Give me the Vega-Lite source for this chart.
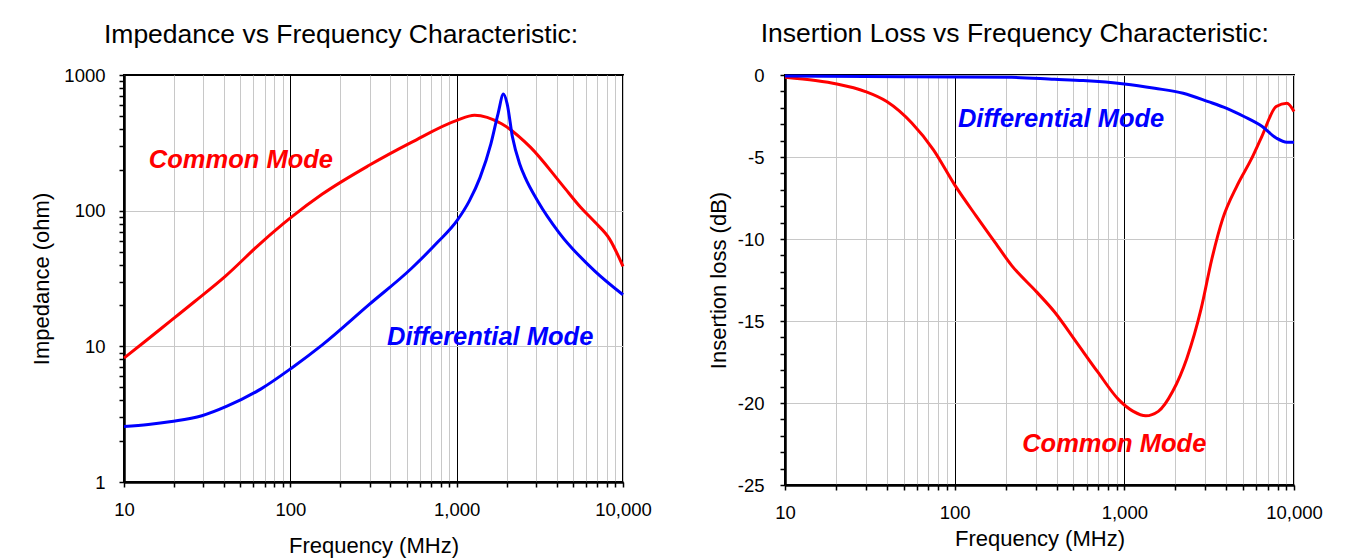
{
  "$schema": "https://vega.github.io/schema/vega-lite/v6.json",
  "background": "white",
  "padding": {"left": 29, "top": 19, "right": 10, "bottom": 0},
  "spacing": 53,
  "config": {
    "font": "Liberation Sans",
    "view": {"stroke": "black", "strokeWidth": 2},
    "axis": {
      "labelFont": "Liberation Sans", "labelFontSize": 18.5, "labelColor": "black",
      "titleFont": "Liberation Sans", "titleFontSize": 22, "titleFontWeight": "normal", "titleColor": "black",
      "domainColor": "black", "domainWidth": 2.5, "tickColor": "black", "tickWidth": 1.5, "tickSize": 5
    },
    "title": {"font": "Liberation Sans", "fontSize": 26.5, "fontWeight": "normal", "color": "black", "anchor": "middle", "frame": "bounds"}
  },
  "datasets": {
    "impedance": [
      {"f": 10, "z": 8.2, "mode": "Common Mode"},
      {"f": 13.3, "z": 10.8, "mode": "Common Mode"},
      {"f": 19.3, "z": 15.6, "mode": "Common Mode"},
      {"f": 26.6, "z": 21.4, "mode": "Common Mode"},
      {"f": 40.6, "z": 32.8, "mode": "Common Mode"},
      {"f": 66.7, "z": 58, "mode": "Common Mode"},
      {"f": 101.9, "z": 90, "mode": "Common Mode"},
      {"f": 155, "z": 132, "mode": "Common Mode"},
      {"f": 296, "z": 215, "mode": "Common Mode"},
      {"f": 538, "z": 320, "mode": "Common Mode"},
      {"f": 1002, "z": 463, "mode": "Common Mode"},
      {"f": 1280, "z": 505, "mode": "Common Mode"},
      {"f": 1862, "z": 437, "mode": "Common Mode"},
      {"f": 2773, "z": 294, "mode": "Common Mode"},
      {"f": 4340, "z": 153, "mode": "Common Mode"},
      {"f": 5560, "z": 106, "mode": "Common Mode"},
      {"f": 6795, "z": 82, "mode": "Common Mode"},
      {"f": 8290, "z": 62, "mode": "Common Mode"},
      {"f": 10000, "z": 38.9, "mode": "Common Mode"},
      {"f": 10, "z": 2.56, "mode": "Differential Mode"},
      {"f": 14, "z": 2.65, "mode": "Differential Mode"},
      {"f": 19.3, "z": 2.79, "mode": "Differential Mode"},
      {"f": 29.4, "z": 3.08, "mode": "Differential Mode"},
      {"f": 41.6, "z": 3.62, "mode": "Differential Mode"},
      {"f": 66.7, "z": 4.86, "mode": "Differential Mode"},
      {"f": 102, "z": 6.93, "mode": "Differential Mode"},
      {"f": 155, "z": 10.2, "mode": "Differential Mode"},
      {"f": 296, "z": 20.2, "mode": "Differential Mode"},
      {"f": 538, "z": 37.8, "mode": "Differential Mode"},
      {"f": 762, "z": 58, "mode": "Differential Mode"},
      {"f": 1002, "z": 84, "mode": "Differential Mode"},
      {"f": 1192, "z": 118, "mode": "Differential Mode"},
      {"f": 1383, "z": 176, "mode": "Differential Mode"},
      {"f": 1606, "z": 311, "mode": "Differential Mode"},
      {"f": 1774, "z": 520, "mode": "Differential Mode"},
      {"f": 1911, "z": 723, "mode": "Differential Mode"},
      {"f": 2010, "z": 616, "mode": "Differential Mode"},
      {"f": 2165, "z": 349, "mode": "Differential Mode"},
      {"f": 2393, "z": 221, "mode": "Differential Mode"},
      {"f": 2579, "z": 176, "mode": "Differential Mode"},
      {"f": 3069, "z": 118, "mode": "Differential Mode"},
      {"f": 4133, "z": 68.7, "mode": "Differential Mode"},
      {"f": 6795, "z": 35.7, "mode": "Differential Mode"},
      {"f": 10000, "z": 24, "mode": "Differential Mode"}
    ],
    "impedanceLabels": [
      {"f": 14.1, "z": 237, "label": "Common Mode", "mode": "Common Mode"},
      {"f": 381, "z": 11.7, "label": "Differential Mode", "mode": "Differential Mode"}
    ],
    "insertion": [
      {"f": 10, "db": -0.14, "mode": "Common Mode"},
      {"f": 15.1, "db": -0.34, "mode": "Common Mode"},
      {"f": 20.2, "db": -0.55, "mode": "Common Mode"},
      {"f": 29.8, "db": -1.01, "mode": "Common Mode"},
      {"f": 39.8, "db": -1.62, "mode": "Common Mode"},
      {"f": 55.9, "db": -2.93, "mode": "Common Mode"},
      {"f": 74.8, "db": -4.55, "mode": "Common Mode"},
      {"f": 100, "db": -6.7, "mode": "Common Mode"},
      {"f": 133.7, "db": -8.59, "mode": "Common Mode"},
      {"f": 170, "db": -10.1, "mode": "Common Mode"},
      {"f": 217, "db": -11.62, "mode": "Common Mode"},
      {"f": 305, "db": -13.24, "mode": "Common Mode"},
      {"f": 388, "db": -14.45, "mode": "Common Mode"},
      {"f": 520, "db": -16.27, "mode": "Common Mode"},
      {"f": 695, "db": -18.09, "mode": "Common Mode"},
      {"f": 929, "db": -19.81, "mode": "Common Mode"},
      {"f": 1129, "db": -20.51, "mode": "Common Mode"},
      {"f": 1337, "db": -20.78, "mode": "Common Mode"},
      {"f": 1586, "db": -20.51, "mode": "Common Mode"},
      {"f": 1925, "db": -19.3, "mode": "Common Mode"},
      {"f": 2335, "db": -17.28, "mode": "Common Mode"},
      {"f": 2836, "db": -14.25, "mode": "Common Mode"},
      {"f": 3280, "db": -11.22, "mode": "Common Mode"},
      {"f": 3794, "db": -8.79, "mode": "Common Mode"},
      {"f": 4606, "db": -6.77, "mode": "Common Mode"},
      {"f": 5590, "db": -5.15, "mode": "Common Mode"},
      {"f": 6468, "db": -3.74, "mode": "Common Mode"},
      {"f": 7853, "db": -1.92, "mode": "Common Mode"},
      {"f": 9080, "db": -1.72, "mode": "Common Mode"},
      {"f": 10000, "db": -2.22, "mode": "Common Mode"},
      {"f": 10, "db": -0.06, "mode": "Differential Mode"},
      {"f": 50.7, "db": -0.1, "mode": "Differential Mode"},
      {"f": 217, "db": -0.14, "mode": "Differential Mode"},
      {"f": 388, "db": -0.26, "mode": "Differential Mode"},
      {"f": 572, "db": -0.34, "mode": "Differential Mode"},
      {"f": 1000, "db": -0.55, "mode": "Differential Mode"},
      {"f": 1510, "db": -0.81, "mode": "Differential Mode"},
      {"f": 2223, "db": -1.11, "mode": "Differential Mode"},
      {"f": 3123, "db": -1.62, "mode": "Differential Mode"},
      {"f": 3984, "db": -2.02, "mode": "Differential Mode"},
      {"f": 5070, "db": -2.53, "mode": "Differential Mode"},
      {"f": 6468, "db": -3.13, "mode": "Differential Mode"},
      {"f": 7853, "db": -3.84, "mode": "Differential Mode"},
      {"f": 9080, "db": -4.1, "mode": "Differential Mode"},
      {"f": 10000, "db": -4.1, "mode": "Differential Mode"}
    ],
    "insertionLabels": [
      {"f": 104.5, "db": -2.68, "label": "Differential Mode", "mode": "Differential Mode"},
      {"f": 250, "db": -22.5, "label": "Common Mode", "mode": "Common Mode"}
    ]
  },
  "hconcat": [
    {
      "width": 499,
      "height": 407,
      "title": {"text": "Impedance vs Frequency Characteristic:", "offset": 18},
      "layer": [
        {
          "data": {"name": "impedance"},
          "mark": {"type": "line", "strokeWidth": 3, "interpolate": "monotone"},
          "encoding": {
            "x": {
              "field": "f", "type": "quantitative",
              "scale": {"type": "log", "domain": [10, 10000], "nice": false},
              "axis": {
                "title": "Frequency (MHz)",
                "values": [10,20,30,40,50,60,70,80,90,100,200,300,400,500,600,700,800,900,1000,2000,3000,4000,5000,6000,7000,8000,9000,10000],
                "tickCount": 40,
                "labelExpr": "(datum.value == 10 || datum.value == 100 || datum.value == 1000 || datum.value == 10000) ? format(datum.value, ',') : ''",
                "labelOverlap": false,
                "labelFlush": false,
                "grid": true,
                "gridColor": {"condition": {"test": "datum.value == 100 || datum.value == 1000", "value": "black"}, "value": "#c8c8c8"},
                "gridWidth": 1,
                "labelPadding": 13,
                "titlePadding": 17
              }
            },
            "y": {
              "field": "z", "type": "quantitative",
              "scale": {"type": "log", "domain": [1, 1000], "nice": false},
              "axis": {
                "title": "Impedance (ohm)",
                "values": [1,2,3,4,5,6,7,8,9,10,20,30,40,50,60,70,80,90,100,200,300,400,500,600,700,800,900,1000],
                "tickCount": 40,
                "labelExpr": "(datum.value == 1 || datum.value == 10 || datum.value == 100 || datum.value == 1000) ? format(datum.value, 'd') : ''",
                "labelOverlap": false,
                "grid": true,
                "gridColor": "#c8c8c8",
                "gridOpacity": {"condition": {"test": "datum.value == 10 || datum.value == 100", "value": 1}, "value": 0},
                "labelPadding": 14,
                "titlePadding": 10
              }
            },
            "color": {
              "field": "mode", "type": "nominal",
              "scale": {"domain": ["Common Mode", "Differential Mode"], "range": ["#ff0000", "#0000ff"]},
              "legend": null
            }
          }
        },
        {
          "data": {"name": "impedanceLabels"},
          "mark": {"type": "text", "align": "left", "baseline": "middle", "fontSize": 25.5, "fontWeight": "bold", "fontStyle": "italic", "font": "Liberation Sans"},
          "encoding": {
            "x": {"field": "f", "type": "quantitative"},
            "y": {"field": "z", "type": "quantitative"},
            "text": {"field": "label"},
            "color": {"field": "mode", "type": "nominal"}
          }
        }
      ]
    },
    {
      "width": 509,
      "height": 410,
      "title": {"text": "Insertion Loss vs Frequency Characteristic:", "offset": 19},
      "layer": [
        {
          "data": {"name": "insertion"},
          "mark": {"type": "line", "strokeWidth": 3, "interpolate": "monotone"},
          "encoding": {
            "x": {
              "field": "f", "type": "quantitative",
              "scale": {"type": "log", "domain": [10, 10000], "nice": false},
              "axis": {
                "title": "Frequency (MHz)",
                "values": [10,20,30,40,50,60,70,80,90,100,200,300,400,500,600,700,800,900,1000,2000,3000,4000,5000,6000,7000,8000,9000,10000],
                "tickCount": 40,
                "labelExpr": "(datum.value == 10 || datum.value == 100 || datum.value == 1000 || datum.value == 10000) ? format(datum.value, ',') : ''",
                "labelOverlap": false,
                "labelFlush": false,
                "grid": true,
                "gridColor": {"condition": {"test": "datum.value == 100 || datum.value == 1000", "value": "black"}, "value": "#c8c8c8"},
                "gridWidth": 1,
                "labelPadding": 13,
                "titlePadding": 7
              }
            },
            "y": {
              "field": "db", "type": "quantitative",
              "scale": {"domain": [-25, 0], "nice": false, "zero": false},
              "axis": {
                "title": "Insertion loss (dB)",
                "values": [-25,-24,-23,-22,-21,-20,-19,-18,-17,-16,-15,-14,-13,-12,-11,-10,-9,-8,-7,-6,-5,-4,-3,-2,-1,0],
                "tickCount": 40,
                "labelExpr": "datum.value % 5 == 0 ? (datum.value < 0 ? '-' + abs(datum.value) : '0') : ''",
                "labelOverlap": false,
                "grid": true,
                "gridColor": "#c8c8c8",
                "gridOpacity": {"condition": {"test": "datum.value % 5 == 0", "value": 1}, "value": 0},
                "labelPadding": 16,
                "titlePadding": 7
              }
            },
            "color": {
              "field": "mode", "type": "nominal",
              "scale": {"domain": ["Common Mode", "Differential Mode"], "range": ["#ff0000", "#0000ff"]},
              "legend": null
            }
          }
        },
        {
          "data": {"name": "insertionLabels"},
          "mark": {"type": "text", "align": "left", "baseline": "middle", "fontSize": 25.5, "fontWeight": "bold", "fontStyle": "italic", "font": "Liberation Sans"},
          "encoding": {
            "x": {"field": "f", "type": "quantitative"},
            "y": {"field": "db", "type": "quantitative"},
            "text": {"field": "label"},
            "color": {"field": "mode", "type": "nominal"}
          }
        }
      ]
    }
  ]
}
